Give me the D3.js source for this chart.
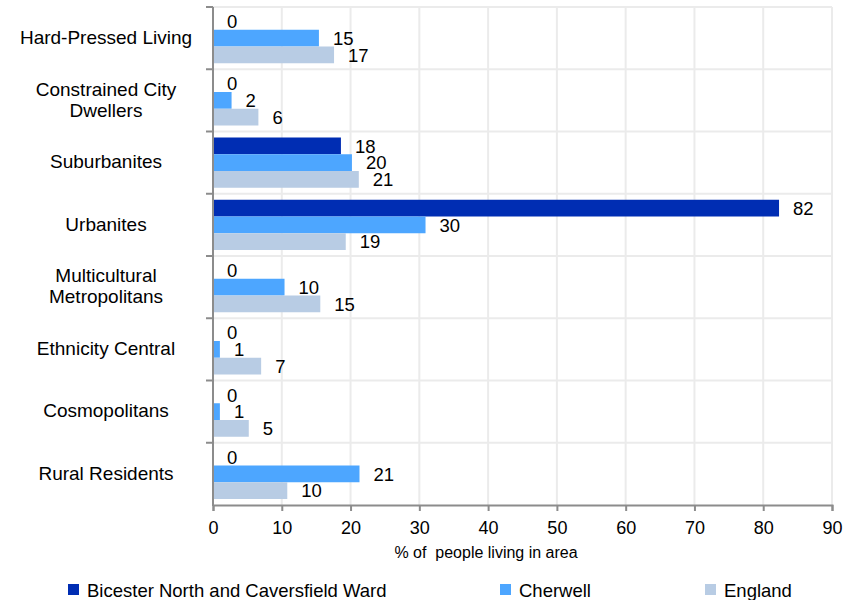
<html><head>
<meta charset="utf-8">
<title>Output area classification</title>
<script src="https://d3js.org/d3.v7.min.js"></script>
<style>
  body { margin: 0; background: #fff; }
  text { font-family: Arial, "Liberation Sans", sans-serif; fill: #000; }
</style>
</head>
<body>
<div id="chart"></div>
<script>

// categories, top to bottom (lines as they are wrapped in the picture)
var categories = ["Hard-Pressed Living", "Constrained City Dwellers", "Suburbanites", "Urbanites",
                  "Multicultural Metropolitans", "Ethnicity Central", "Cosmopolitans", "Rural Residents"];
var categoryLines = [["Hard-Pressed Living"], ["Constrained City", "Dwellers"], ["Suburbanites"], ["Urbanites"],
                     ["Multicultural", "Metropolitans"], ["Ethnicity Central"], ["Cosmopolitans"], ["Rural Residents"]];

var seriesNames = ["Bicester North and Caversfield Ward", "Cherwell", "England"];
var wardValues     = [0, 0, 18.6, 82.3, 0, 0, 0, 0];
var cherwellValues = [15.4, 2.7, 20.2, 30.9, 10.4, 1.0, 1.0, 21.3];
var englandValues  = [17.6, 6.6, 21.2, 19.3, 15.6, 7.0, 5.2, 10.8];
var xTicks = [0, 10, 20, 30, 40, 50, 60, 70, 80, 90];

var colors = ["#002db3", "#4da6ff", "#b8cce4"];
var allSeries = [wardValues, cherwellValues, englandValues];

var W = 852, H = 600;
var plotLeft = 213, plotRight = 832, plotTop = 7, plotBottom = 505;

var svg = d3.select("#chart").append("svg")
    .attr("width", W)
    .attr("height", H);

var x = d3.scaleLinear().domain([0, 90]).range([plotLeft, plotRight]);
var y = d3.scaleBand().domain(categories).range([plotTop, plotBottom]).padding(0);
var inner = d3.scaleBand().domain(d3.range(3))
    .range([6, y.bandwidth() - 6]).padding(0);

// grid
var grid = svg.append("g").attr("stroke", "#ebebeb").attr("stroke-width", 2);
grid.selectAll(".v").data(xTicks.slice(1)).enter().append("line")
    .attr("x1", function(d) { return x(d); }).attr("x2", function(d) { return x(d); })
    .attr("y1", plotTop).attr("y2", plotBottom);
grid.selectAll(".h").data(categories).enter().append("line")
    .attr("x1", plotLeft).attr("x2", plotRight)
    .attr("y1", function(d) { return y(d); }).attr("y2", function(d) { return y(d); });

// bars
allSeries.forEach(function(vals, s) {
  var g = svg.append("g");
  g.selectAll("rect").data(vals).enter().append("rect")
    .attr("x", x(0))
    .attr("y", function(d, i) { return y(categories[i]) + inner(s); })
    .attr("width", function(d) { return x(d) - x(0); })
    .attr("height", inner.bandwidth())
    .attr("fill", colors[s]);
  g.selectAll("text").data(vals).enter().append("text")
    .attr("x", function(d) { return x(d) + 14; })
    .attr("y", function(d, i) { return y(categories[i]) + inner(s) + inner.bandwidth() / 2; })
    .attr("dy", "0.36em")
    .style("font-size", "18.5px")
    .text(function(d) { return Math.floor(d); });
});

// y axis
var yAxis = svg.append("g").attr("stroke", "#8c8c8c").attr("stroke-width", 2);
yAxis.append("line").attr("x1", plotLeft).attr("x2", plotLeft).attr("y1", plotTop).attr("y2", plotBottom + 1);
yAxis.selectAll(".t").data(categories).enter().append("line")
    .attr("x1", plotLeft - 7).attr("x2", plotLeft)
    .attr("y1", function(d) { return y(d); }).attr("y2", function(d) { return y(d); });

svg.append("g").selectAll("text").data(categories).enter().append("text")
    .attr("text-anchor", "middle")
    .attr("x", 106)
    .attr("y", function(d, i) {
      return y(d) + y.bandwidth() / 2 - 1 - (categoryLines[i].length - 1) * 10.5;
    })
    .style("font-size", "19px")
    .each(function(d, i) {
      var t = d3.select(this);
      categoryLines[i].forEach(function(line, k) {
        t.append("tspan").attr("x", 106).attr("dy", k === 0 ? "0.36em" : "21px").text(line);
      });
    });

// x axis
var xAxis = svg.append("g")
    .attr("transform", "translate(0," + plotBottom + ")")
    .call(d3.axisBottom(x).tickValues(xTicks).tickSize(6).tickPadding(10));
xAxis.select(".domain").attr("stroke", "#8c8c8c").attr("stroke-width", 2);
xAxis.selectAll(".tick line").attr("stroke", "#8c8c8c").attr("stroke-width", 2);
xAxis.selectAll(".tick text")
    .style("font-family", "Arial, 'Liberation Sans', sans-serif")
    .style("font-size", "18px");

svg.append("text")
    .attr("x", 486).attr("y", 558)
    .attr("text-anchor", "middle")
    .style("font-size", "16px")
    .style("white-space", "pre")
    .text("% of  people living in area");

// legend
var legendX = [68, 500, 705];
var lg = svg.append("g");
seriesNames.forEach(function(name, i) {
  lg.append("rect").attr("x", legendX[i]).attr("y", 584).attr("width", 11).attr("height", 11)
    .attr("fill", colors[i]);
  lg.append("text").attr("x", legendX[i] + 19).attr("y", 590).attr("dy", "0.36em")
    .style("font-size", "18.5px").text(name);
});

</script>
</body></html>
